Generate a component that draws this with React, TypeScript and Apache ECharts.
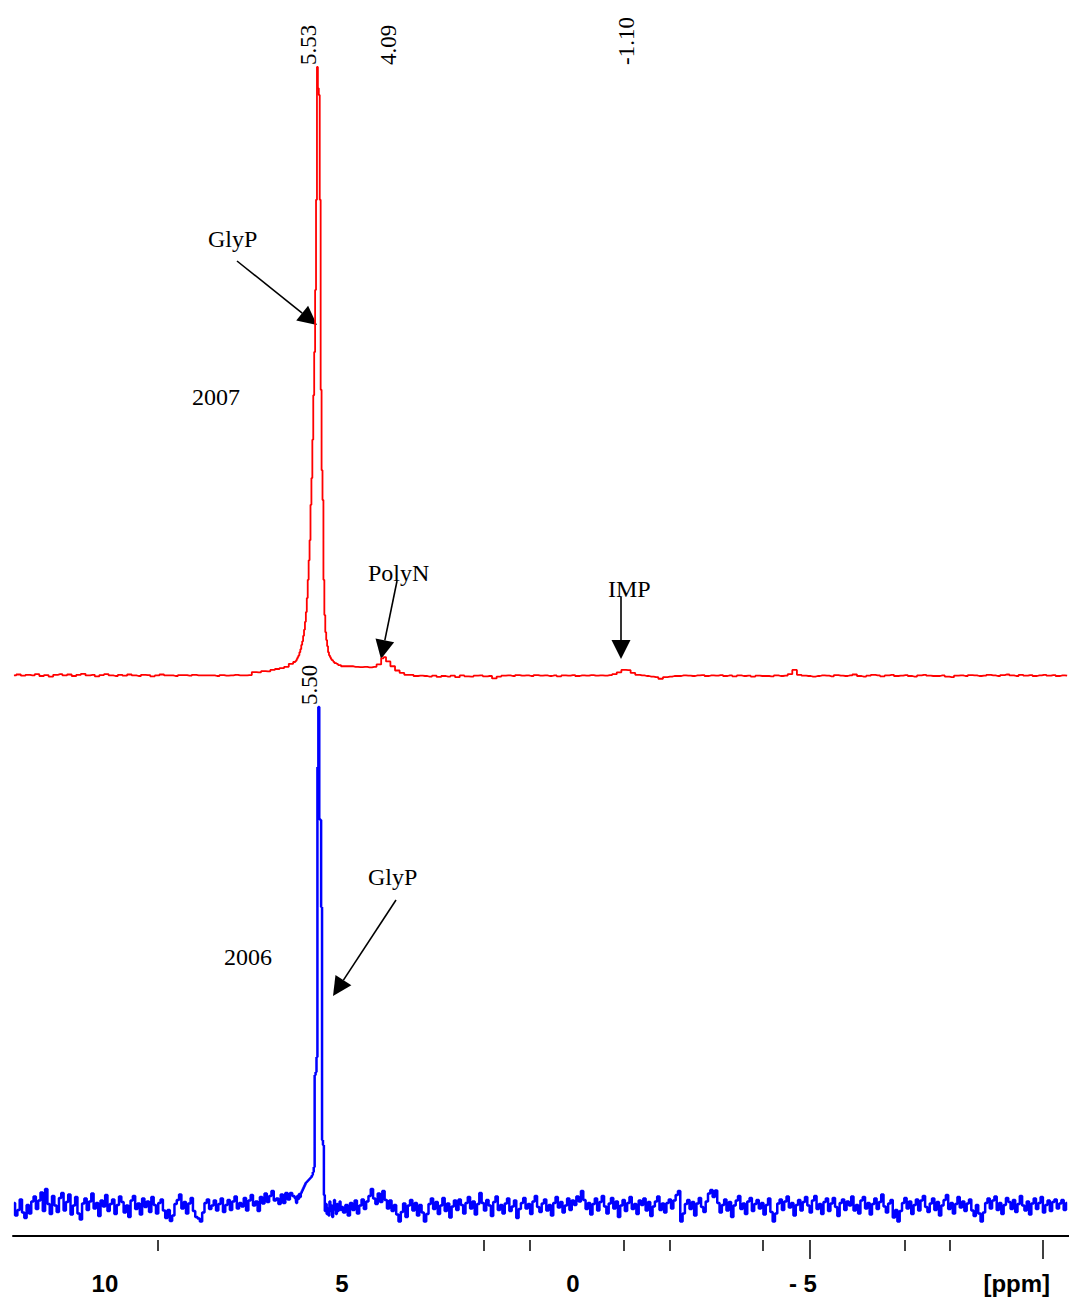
import { useEffect, useRef } from "react";
import * as echarts from "echarts";

// Chemical-shift window (ppm), plotted high → low from left to right
const PPM_MAX = 12.12;
const PPM_MIN = -10.74;

// ---- 2007 spectrum (red) ----
// coarse baseline left of the main signal: 12.1 → 6.1 ppm, step 0.1
const red2007LeftStart = 12.1;
const red2007LeftStep = 0.1;
const red2007Left = [
  0.1, 0.25, 0.05, 0.2, 0.1, 0.3, 0.0, 0.15, -0.1, 0.2,
  0.3, 0.1, 0.25, 0.0, 0.2, 0.35, 0.1, 0.2, -0.05, 0.15,
  0.3, 0.1, 0.0, 0.2, 0.05, 0.25, 0.1, 0.0, 0.2, 0.15,
  -0.05, 0.1, 0.25, 0.1, 0.1, 0.0, 0.15, 0.15, 0.05, 0.2,
  0.1, 0.1, 0.1, 0.1, 0.0, 0.15, 0.05, 0.1, 0.2, 0.1,
  0.1, 0.15, 0.65, 0.6, 0.8, 0.75, 1.0, 1.15, 1.3, 1.5,
  2.0,
];
// fine sampling across the GlyP signal: 6.01 → 4.99 ppm, step 0.02
const red2007FineStart = 6.01;
const red2007FineStep = 0.02;
const red2007Fine = [
  2.3, 2.5, 2.8, 3.1, 3.4, 3.9, 4.4, 5.1, 5.7, 6.6,
  7.6, 8.9, 10.5, 12.8, 15.8, 19.0, 22.3, 28.1, 32.5, 38.8,
  46.1, 53.2, 63.4, 78.2, 100, 96.5, 95.4, 78.2, 47.0, 33.8,
  28.9, 15.8, 10.0, 7.2, 5.9, 4.9, 3.9, 3.4, 3.1, 2.8,
  2.6, 2.5, 2.3, 2.1, 2.1, 2.0, 2.0, 1.8, 1.8, 1.8,
  1.6, 1.6,
];
// coarse baseline right of the main signal: 4.9 → -10.7 ppm, step 0.1
const red2007RightStart = 4.9;
const red2007RightStep = 0.1;
const red2007Right = [
  1.6, 1.6, 1.5, 1.45, 1.5, 1.4, 1.5, 1.9, 2.9, 2.4,
  1.6, 0.9, 0.5, 0.2, 0.2, 0.0, 0.05, 0.0, -0.1, 0.05,
  -0.15, 0.0, -0.1, 0.05, -0.2, 0.1, -0.05, -0.1, 0.05, 0.1,
  -0.05, 0.0, -0.4, -0.1, 0.05, 0.1, 0.0, 0.15, 0.05, 0.1,
  0.0, 0.15, 0.05, 0.1, 0.0, 0.1, -0.05, 0.1, 0.05, 0.15,
  0.0, 0.1, 0.05, 0.15, 0.05, 0.1, 0.05, 0.15, 0.3, 0.6,
  1.0, 0.95, 0.5, 0.2, 0.1, 0.0, -0.1, -0.2, -0.45, -0.2,
  -0.1, 0.0, 0.0, 0.1, 0.05, 0.0, 0.1, 0.15, 0.0, 0.1,
  0.05, 0.15, 0.0, 0.1, -0.05, 0.1, 0.0, 0.05, -0.1, 0.05,
  0.0, 0.0, -0.05, 0.1, 0.0, 0.05, 0.3, 1.0, 0.2, 0.05,
  0.0, -0.1, 0.0, 0.1, 0.05, -0.05, 0.15, 0.05, 0.0, 0.1,
  0.25, 0.0, -0.1, 0.05, 0.2, 0.1, -0.05, 0.1, 0.2, 0.0,
  0.05, 0.15, 0.0, -0.1, 0.1, 0.2, 0.05, 0.0, 0.0, 0.1,
  -0.1, -0.2, 0.05, 0.1, 0.0, 0.15, 0.1, 0.0, 0.05, 0.2,
  0.1, 0.0, 0.15, 0.25, 0.1, 0.0, 0.2, 0.05, 0.15, 0.0,
  0.1, 0.2, 0.05, 0.15, 0.0, 0.1, 0.05,
];
// picked peaks (ppm) and their heights
const red2007PeakPpm = [5.53, 4.09, -1.1];
const red2007PeakHeight = [100, 3.1, 1.0];

// ---- 2006 spectrum (blue) ----
// baseline left of the signal: 12.10 → 6.05 ppm, step 0.05
const blue2006LeftStart = 12.1;
const blue2006LeftStep = 0.05;
const blue2006Left = [
  0.8, -1.7, -0.6, 1.5, -1.1, -2.2, 0.4, -1.3, 1.1, 2.1,
  -0.4, 1.3, 2.9, -0.8, 3.6, 0.6, -1.4, 2.2, 0.3, -1.0,
  1.8, 2.8, -0.7, 1.0, 2.5, -1.5, 0.3, 2.0, -1.3, -2.5,
  0.7, 1.7, -0.6, 1.1, 2.7, -0.3, 0.8, -1.8, 1.3, 0.1,
  2.4, -0.8, 0.6, 1.5, -1.4, 0.4, 2.1, 1.0, -1.1, 0.3,
  -2.0, 1.3, 2.2, -0.4, 0.7, -1.5, 1.7, 0.0, 1.1, -1.0,
  2.0, 0.4, -1.3, 0.8, 1.5, -0.7, -2.2, -0.6, -2.8, -1.7,
  0.6, 1.4, 2.5, -0.3, 1.0, -1.3, 0.7, 1.8, -0.8, -2.0,
  -2.3, -2.9, -1.1, 0.8, 1.5, -0.4, 0.3, 1.3, -0.7, 0.6,
  1.7, -1.0, 0.4, 1.4, -0.6, 1.1, 2.1, -0.3, 0.8, 0.1,
  1.8, -0.7, 1.3, 2.4, 0.3, 1.1, -0.8, 2.0, 0.7, 2.7,
  1.0, 2.2, 3.2, 1.3, 1.7, 0.6, 2.5, 0.8, 2.8, 1.5,
  2.8, 2.2,
];
// fine sampling across the GlyP signal: 6.00 → 5.00 ppm, step 0.02
const blue2006FineStart = 6.0;
const blue2006FineStep = 0.02;
const blue2006Fine = [
  1.8, 0.8, 2.2, 1.6, 2.6, 2.0, 2.8, 3.2, 3.6, 4.0,
  4.4, 4.8, 5.0, 5.2, 5.4, 5.6, 5.8, 6.0, 6.4, 7.0,
  8.0, 26.4, 27.0, 30.0, 88.0, 100, 77.6, 77.4, 60.0, 13.4,
  12.4, 2.4, -0.8, 0.6, -1.4, -0.3, -1.7, 1.1, -0.8, 0.3,
  -2.0, 0.0, 1.4, -0.6, -1.4, 0.6, -0.8, 0.3, 1.1, -0.6,
  0.0,
];
// baseline right of the signal: 4.95 → -10.70 ppm, step 0.05
const blue2006RightStart = 4.95;
const blue2006RightStep = 0.05;
const blue2006Right = [
  -1.1, 0.4, -1.7, 0.8, -0.6, 1.3, -1.3, 0.3, 1.5, -0.4,
  1.1, 2.2, 3.6, 1.7, 0.6, 2.7, 1.0, 3.2, 1.4, -0.3,
  1.3, -0.8, 0.4, -1.5, -2.9, -1.0, 0.7, -2.0, 0.3, 1.4,
  -0.7, 0.8, -1.7, 0.4, -1.1, -2.9, -1.4, 0.6, 1.7, -0.4,
  1.0, -1.4, 0.3, 1.8, -0.8, 0.7, -2.1, 0.1, 1.3, -0.6,
  1.5, 0.4, -1.3, 0.8, 2.0, -0.3, 1.1, -1.5, 0.6, 2.8,
  0.8, -0.7, 1.4, 0.3, -1.8, 1.0, 2.1, -0.6, 0.4, -1.3,
  0.7, 1.7, -0.8, 0.1, 1.3, -2.2, -0.4, 0.8, 1.8, -0.3,
  0.6, -1.4, 1.1, 2.2, 0.0, -1.0, 0.7, 1.5, -0.7, 0.4,
  -1.7, 0.8, 2.0, -0.1, 1.0, -1.1, 0.3, 1.7, -0.6, 1.3,
  0.4, 2.1, 1.1, 3.2, 1.4, -0.4, 0.8, -1.5, 0.6, 1.7,
  -0.7, 1.0, 2.2, 0.1, -1.3, 0.7, 1.8, -0.3, 1.1, -2.0,
  0.3, 1.4, -0.8, 0.8, 2.0, -0.4, 0.6, -1.4, 1.3, 0.4,
  1.7, -0.7, 1.0, -1.8, 0.1, 1.1, 2.1, -0.6, 0.7, -1.1,
  0.8, 1.5, -0.3, 1.3, 2.4, 3.2, -2.9, -1.3, 0.6, 1.4,
  -0.4, 1.0, -1.7, 0.7, 1.8, 0.0, -1.0, 1.1, 2.7, 3.4,
  2.0, 3.3, 0.8, -1.1, 0.4, 1.5, -0.7, 1.0, -2.0, 0.3,
  1.3, 2.2, -0.4, 0.7, -1.4, 1.1, 1.8, -0.8, 0.6, 1.4,
  -0.3, 0.8, -1.5, 0.4, 1.7, -1.0, -2.9, -1.3, 0.7, 1.5,
  -0.6, 1.1, 2.1, -0.1, 0.8, -1.7, 0.4, 1.4, -0.7, 1.0,
  2.0, 0.3, -1.1, 1.3, 2.2, -0.4, 0.6, -1.4, 1.0, 1.7,
  -0.8, 0.7, 1.8, 0.0, -1.8, 0.8, 1.5, -0.6, 1.1, 0.3,
  2.1, -0.7, 0.4, -1.3, 1.3, 2.0, -0.3, 0.8, -1.5, 0.6,
  1.7, -0.4, 1.0, 2.5, 0.1, -1.1, 0.7, 1.4, -2.1, -0.6,
  -2.9, -0.8, 0.8, 1.8, -0.3, 1.1, -1.4, 0.4, 1.5, -0.7,
  1.3, 2.2, 0.0, -1.0, 0.7, 1.7, -0.6, 1.0, -1.7, 0.3,
  1.4, 2.4, -0.4, 0.8, -1.3, 0.6, 2.0, -0.1, 1.1, -0.8,
  0.7, 1.5, -0.7, -1.8, 0.4, -1.3, -2.9, -1.1, 0.8, 1.7,
  -0.3, 1.3, 2.1, -0.6, 0.8, -1.4, 0.4, 1.8, 1.0, -0.4,
  1.4, -1.0, 0.6, 2.2, 0.3, -0.7, 1.1, -1.5, 0.7, 1.7,
  -0.4, 0.8, 2.0, -1.1, 0.4, 1.3, -0.8, 1.0, 1.5, -0.3,
  0.7, 1.4, -0.6, 0.8,
];
const blue2006PeakPpm = [5.5];
const blue2006PeakHeight = [100];

// ---- ppm scale ----
const axisLabelPpm = [10.13, 5, 0, -4.98, -9.61];
const axisLabelText = ["10", "5", "0", "- 5", "[ppm]"];
const minorTickPpm = [8.98, 1.93, 0.93, -1.1, -2.1, -4.11, -7.19, -8.16];
const majorTickPpm = [-5.13, -10.17];

const round2 = (n: number) => Math.round(n * 100) / 100;

type Segment = { start: number; step: number; values: number[] };

// join the sampled segments, put the picked peaks in, order by shift
function buildTrace(segments: Segment[], peakPpm: number[], peakHeight: number[]) {
  const byPpm = new Map<number, number>();
  segments.forEach((seg) =>
    seg.values.forEach((v, i) => byPpm.set(round2(seg.start - i * seg.step), v))
  );
  peakPpm.forEach((p, i) => byPpm.set(round2(p), peakHeight[i]));
  return Array.from(byPpm.entries()).sort((a, b) => b[0] - a[0]);
}

const red2007 = buildTrace(
  [
    { start: red2007LeftStart, step: red2007LeftStep, values: red2007Left },
    { start: red2007FineStart, step: red2007FineStep, values: red2007Fine },
    { start: red2007RightStart, step: red2007RightStep, values: red2007Right },
  ],
  red2007PeakPpm,
  red2007PeakHeight
);
const blue2006 = buildTrace(
  [
    { start: blue2006LeftStart, step: blue2006LeftStep, values: blue2006Left },
    { start: blue2006FineStart, step: blue2006FineStep, values: blue2006Fine },
    { start: blue2006RightStart, step: blue2006RightStep, values: blue2006Right },
  ],
  blue2006PeakPpm,
  blue2006PeakHeight
);

const W = 1069;
const H = 1302;
const SERIF = '"Liberation Serif", "Times New Roman", serif';
const SANS = '"Liberation Sans", Arial, sans-serif';

// vertical layout of the two stacked traces (pixel rows)
const RED_TOP = 67;
const RED_BASE = 676;
const RED_BOTTOM = 690;
const BLUE_TOP = 707;
const BLUE_BASE = 1207;
const AXIS_Y = 1236;

function arrow(x1: number, y1: number, x2: number, y2: number) {
  const len = Math.hypot(x2 - x1, y2 - y1);
  const ux = (x2 - x1) / len;
  const uy = (y2 - y1) / len;
  const headLen = 19;
  const headHalf = 9.5;
  const bx = x2 - ux * headLen;
  const by = y2 - uy * headLen;
  return [
    {
      type: "line",
      shape: { x1, y1, x2: bx, y2: by },
      style: { stroke: "#000", lineWidth: 1.6 },
    },
    {
      type: "polygon",
      shape: {
        points: [
          [x2, y2],
          [bx - uy * headHalf, by + ux * headHalf],
          [bx + uy * headHalf, by - ux * headHalf],
        ],
      },
      style: { fill: "#000" },
    },
  ];
}

function label(text: string, x: number, y: number) {
  return {
    type: "text",
    x,
    y,
    style: {
      text,
      fill: "#000",
      fontSize: 24,
      fontFamily: SERIF,
      align: "left",
      verticalAlign: "middle",
    },
  };
}

function shiftLabel(text: string, x: number, yStart: number) {
  return {
    type: "text",
    x,
    y: yStart,
    rotation: Math.PI / 2,
    style: {
      text,
      fill: "#000",
      fontSize: 23,
      fontFamily: SERIF,
      align: "left",
      verticalAlign: "middle",
    },
  };
}

export default function App() {
  const ref = useRef<HTMLDivElement>(null);

  useEffect(() => {
    if (!ref.current) return;
    const chart = echarts.init(ref.current, null, { renderer: "svg", width: W, height: H });

    const xBase = {
      type: "value",
      position: "bottom",
      min: PPM_MIN,
      max: PPM_MAX,
      inverse: true,
      splitLine: { show: false },
    };

    const labelFor = (v: number) => {
      const i = axisLabelPpm.findIndex((p) => Math.abs(p - v) < 1e-6);
      return i >= 0 ? axisLabelText[i] : "";
    };

    const tickAxis = (values: number[], length: number) => ({
      ...xBase,
      gridIndex: 1,
      offset: 4,
      axisLine: { show: false, onZero: false },
      axisLabel: { show: false },
      axisTick: {
        show: true,
        customValues: values,
        length,
        lineStyle: { color: "#000", width: 1.5 },
      },
    });

    chart.setOption({
      animation: false,
      backgroundColor: "#fff",
      grid: [
        { left: 13, right: 0, top: RED_TOP, bottom: H - RED_BOTTOM },
        { left: 13, right: 0, top: BLUE_TOP, bottom: H - AXIS_Y },
      ],
      xAxis: [
        { ...xBase, gridIndex: 0, show: false },
        {
          ...xBase,
          gridIndex: 1,
          axisLine: { show: true, onZero: false, lineStyle: { color: "#000", width: 2 } },
          axisTick: { show: false },
          axisLabel: {
            show: true,
            customValues: axisLabelPpm,
            formatter: labelFor,
            color: "#000",
            fontSize: 24,
            fontWeight: "bold",
            fontFamily: SANS,
            margin: 35,
          },
        },
        tickAxis(minorTickPpm, 11),
        tickAxis(majorTickPpm, 19),
      ],
      yAxis: [
        {
          type: "value",
          gridIndex: 0,
          show: false,
          max: 100,
          min: -((RED_BOTTOM - RED_BASE) / (RED_BASE - RED_TOP)) * 100,
        },
        {
          type: "value",
          gridIndex: 1,
          show: false,
          max: 100,
          min: -((AXIS_Y - BLUE_BASE) / (BLUE_BASE - BLUE_TOP)) * 100,
        },
      ],
      series: [
        {
          name: "2007",
          type: "line",
          xAxisIndex: 0,
          yAxisIndex: 0,
          data: red2007,
          step: "middle",
          showSymbol: false,
          clip: false,
          lineStyle: { color: "#ff0000", width: 1.8 },
        },
        {
          name: "2006",
          type: "line",
          xAxisIndex: 1,
          yAxisIndex: 1,
          data: blue2006,
          step: "middle",
          showSymbol: false,
          clip: false,
          lineStyle: { color: "#0000ff", width: 2.5 },
        },
      ],
      graphic: [
        shiftLabel("5.53", 308.5, 65),
        shiftLabel("4.09", 388.5, 65),
        shiftLabel("-1.10", 626.5, 65),
        shiftLabel("5.50", 309, 705),
        label("GlyP", 208, 239),
        label("2007", 192, 397),
        label("PolyN", 368, 573),
        label("IMP", 608, 589),
        label("GlyP", 368, 877),
        label("2006", 224, 957),
        ...arrow(237, 261, 317, 325),
        ...arrow(397, 581, 381, 659),
        ...arrow(621, 597, 621, 659),
        ...arrow(396, 900, 333, 996),
      ],
    });

    return () => chart.dispose();
  }, []);

  return (
    <div
      ref={ref}
      style={{ position: "fixed", left: 0, top: 0, width: W, height: H, background: "#fff" }}
    />
  );
}
